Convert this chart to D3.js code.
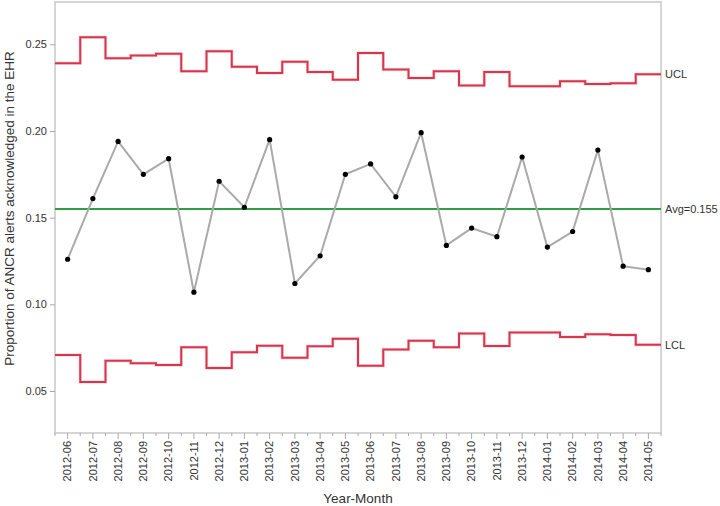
<!DOCTYPE html>
<html>
<head>
<meta charset="utf-8">
<script src="https://cdn.jsdelivr.net/npm/d3@7"></script>
<style>
  body { margin: 0; background: #fff; }
  text { font-family: "Liberation Sans", Arial, sans-serif; fill: #333; }
</style>
</head>
<body>
<div id="chart"></div>
<script>
const months = ['2012-06','2012-07','2012-08','2012-09','2012-10','2012-11','2012-12',
  '2013-01','2013-02','2013-03','2013-04','2013-05','2013-06','2013-07','2013-08',
  '2013-09','2013-10','2013-11','2013-12','2014-01','2014-02','2014-03','2014-04','2014-05'];

const proportion = [0.126, 0.161, 0.194, 0.175, 0.184, 0.107, 0.171, 0.156, 0.195, 0.112,
  0.128, 0.175, 0.181, 0.162, 0.199, 0.134, 0.144, 0.139, 0.185, 0.133, 0.142, 0.189, 0.122, 0.120];

const ucl = [0.239, 0.254, 0.242, 0.2435, 0.2445, 0.2345, 0.246, 0.237, 0.2335, 0.240,
  0.234, 0.2295, 0.245, 0.2355, 0.2305, 0.2345, 0.2262, 0.234, 0.2258, 0.2258, 0.2287, 0.2271, 0.2275, 0.2327];

const lcl = [0.0707, 0.0552, 0.0675, 0.066, 0.065, 0.0752, 0.0633, 0.0723, 0.0761, 0.0692,
  0.0758, 0.0801, 0.0646, 0.074, 0.079, 0.0752, 0.0832, 0.0759, 0.0838, 0.0838, 0.0811, 0.0827, 0.0823, 0.0767];

const avg = 0.155;
const yTicks = [0.05, 0.10, 0.15, 0.20, 0.25];

const width = 720, height = 506;
const plotLeft = 55, plotRight = 661, plotTop = 2, plotBottom = 433;

const svg = d3.select('#chart').append('svg')
  .attr('width', width)
  .attr('height', height);

const x = d3.scaleBand().domain(months).range([plotLeft, plotRight]).padding(0);
const y = d3.scaleLinear().domain([0.05, 0.25]).range([391, 44.3]);

// frame
svg.append('rect')
  .attr('x', plotLeft).attr('y', plotTop)
  .attr('width', plotRight - plotLeft).attr('height', plotBottom - plotTop)
  .attr('fill', 'none')
  .attr('stroke', '#c8c8c8')
  .attr('stroke-width', 1.5);

// y axis
const yAxis = svg.append('g')
  .attr('transform', `translate(${plotLeft},0)`)
  .call(d3.axisLeft(y).tickValues(yTicks).tickFormat(d3.format('.2f')).tickSize(5).tickPadding(3));
yAxis.select('.domain').remove();
yAxis.selectAll('line').attr('stroke', '#aaa');
yAxis.selectAll('text').style('font-size', '11px').attr('fill', '#333');

// x axis
const xAxis = svg.append('g')
  .attr('transform', `translate(0,${plotBottom})`)
  .call(d3.axisBottom(x).tickSize(6).tickPadding(4));
xAxis.select('.domain').remove();
xAxis.selectAll('line').attr('stroke', '#aaa');
xAxis.selectAll('text')
  .style('font-size', '11px')
  .attr('fill', '#333')
  .attr('text-anchor', 'end')
  .attr('transform', 'rotate(-90)')
  .attr('x', -8)
  .attr('y', 0)
  .attr('dy', '0.35em');

// minor ticks at month boundaries
svg.append('g').selectAll('line')
  .data(months.concat(['end']))
  .join('line')
  .attr('x1', (d, i) => i < months.length ? x(d) : plotRight)
  .attr('x2', (d, i) => i < months.length ? x(d) : plotRight)
  .attr('y1', plotBottom)
  .attr('y2', plotBottom + 3)
  .attr('stroke', '#aaa');

// step line helper
function stepPoints(vals) {
  const pts = [];
  months.forEach((m, i) => {
    pts.push([x(m), vals[i]]);
    pts.push([x(m) + x.bandwidth(), vals[i]]);
  });
  return pts;
}

const stepLine = d3.line().x(d => d[0]).y(d => y(d[1]));

[ucl, lcl].forEach(vals => {
  svg.append('path')
    .attr('d', stepLine(stepPoints(vals)))
    .attr('fill', 'none')
    .attr('stroke', '#f4b8c0')
    .attr('stroke-width', 3.5)
    .attr('opacity', 0.5);
  svg.append('path')
    .attr('d', stepLine(stepPoints(vals)))
    .attr('fill', 'none')
    .attr('stroke', '#d8364c')
    .attr('stroke-width', 2);
});

// average line
svg.append('line')
  .attr('x1', plotLeft).attr('x2', plotRight)
  .attr('y1', y(avg)).attr('y2', y(avg))
  .attr('stroke', '#2ea043')
  .attr('stroke-width', 2);

// data line
const line = d3.line()
  .x((d, i) => x(months[i]) + x.bandwidth() / 2)
  .y(d => y(d));

svg.append('path')
  .attr('d', line(proportion))
  .attr('fill', 'none')
  .attr('stroke', '#aaa')
  .attr('stroke-width', 2);

svg.append('g').selectAll('circle')
  .data(proportion)
  .join('circle')
  .attr('cx', (d, i) => x(months[i]) + x.bandwidth() / 2)
  .attr('cy', d => y(d))
  .attr('r', 2.6)
  .attr('fill', '#000');

// right labels
const rightLabels = [
  { text: 'UCL', v: ucl[ucl.length - 1] },
  { text: 'Avg=0.155', v: avg },
  { text: 'LCL', v: lcl[lcl.length - 1] }
];
svg.append('g').selectAll('text')
  .data(rightLabels)
  .join('text')
  .attr('x', plotRight + 4)
  .attr('y', d => y(d.v))
  .attr('dy', '0.35em')
  .style('font-size', '11px')
  .text(d => d.text);

// axis titles
svg.append('text')
  .attr('transform', `translate(14,208.5) rotate(-90)`)
  .attr('text-anchor', 'middle')
  .style('font-size', '13.5px')
  .text('Proportion of ANCR alerts acknowledged in the EHR');

svg.append('text')
  .attr('x', (plotLeft + plotRight) / 2)
  .attr('y', 503)
  .attr('text-anchor', 'middle')
  .style('font-size', '13.5px')
  .text('Year-Month');
</script>
</body>
</html>
